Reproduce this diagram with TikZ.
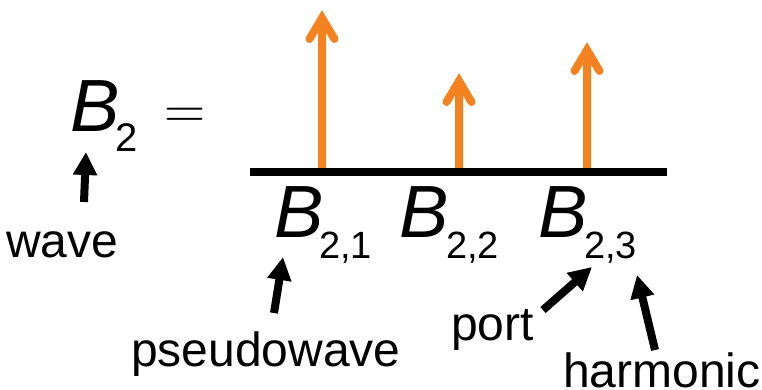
\documentclass[tikz,border=0pt]{standalone}
\usepackage{fontspec}
\setmainfont{Liberation Sans}
\newfontfamily\lmfont{Latin Modern Roman}
\usetikzlibrary{arrows.meta}
\definecolor{harmorange}{RGB}{245,130,32}
\begin{document}
\begin{tikzpicture}[x=1pt,y=-1pt,
  lbl/.style={inner sep=0, anchor=base west, font=\fontsize{48}{48}\selectfont},
  bigB/.style={inner sep=0, anchor=base west, font=\fontsize{74}{74}\selectfont\itshape},
  subs/.style={inner sep=0, anchor=base west, font=\fontsize{38}{38}\selectfont},
  callout/.style={line width=8pt, -{Triangle[width=23pt,length=23pt]}},
  spike/.style={draw=harmorange, line width=8pt, line cap=round, line join=miter},
  axisline/.style={line width=8pt}]
\useasboundingbox (0,0) rectangle (762,390);

% left-hand side
\node[bigB] (B) at (70,132) {B};
\node[subs, font=\fontsize{40}{40}\selectfont] (Bsub) at (115,152) {2};
\node[inner sep=0, anchor=base west, font=\lmfont\fontsize{57}{57}\selectfont] (eq) at (164,128.7) {=};

% spikes
\coordinate (s1) at (322,172); \coordinate (t1) at (322,18);
\coordinate (s2) at (459,172); \coordinate (t2) at (459,81);
\coordinate (s3) at (587,172); \coordinate (t3) at (587,50);
\draw[spike] (s1) -- (t1) ++(-12.5,21) -- (t1) -- ++(12.5,21);
\draw[spike] (s2) -- (t2) ++(-12.5,21) -- (t2) -- ++(12.5,21);
\draw[spike] (s3) -- (t3) ++(-12.5,21) -- (t3) -- ++(12.5,21);

% axis
\coordinate (axL) at (250,172); \coordinate (axR) at (667,172);
\draw[axisline] (axL) -- (axR);

% spectral components
\node[bigB] (B21) at (274,237) {B};
\node[subs] (S21) at (319,258) {2,1};
\node[bigB] (B22) at (399,237) {B};
\node[subs] (S22) at (446,258) {2,2};
\node[bigB] (B23) at (538,237) {B};
\node[subs] (S23) at (584,258) {2,3};

% labels
\node[lbl] (wave) at (6,257) {wave};
\node[lbl] (pseudo) at (131,366) {pseudowave};
\node[lbl] (port) at (451,340) {port};
\node[lbl] (harm) at (563,387) {harmonic};

% callout arrows
\coordinate (waveT) at (84,202); \coordinate (waveH) at (86,152);
\coordinate (pseT) at (274,313); \coordinate (pseH) at (283,257);
\coordinate (porT) at (543,310); \coordinate (porH) at (592,267);
\coordinate (harT) at (655,350); \coordinate (harH) at (637,275);
\draw[callout] (waveT) -- (waveH);
\draw[callout] (pseT) -- (pseH);
\draw[callout] (porT) -- (porH);
\draw[callout] (harT) -- (harH);
\end{tikzpicture}
\end{document}
